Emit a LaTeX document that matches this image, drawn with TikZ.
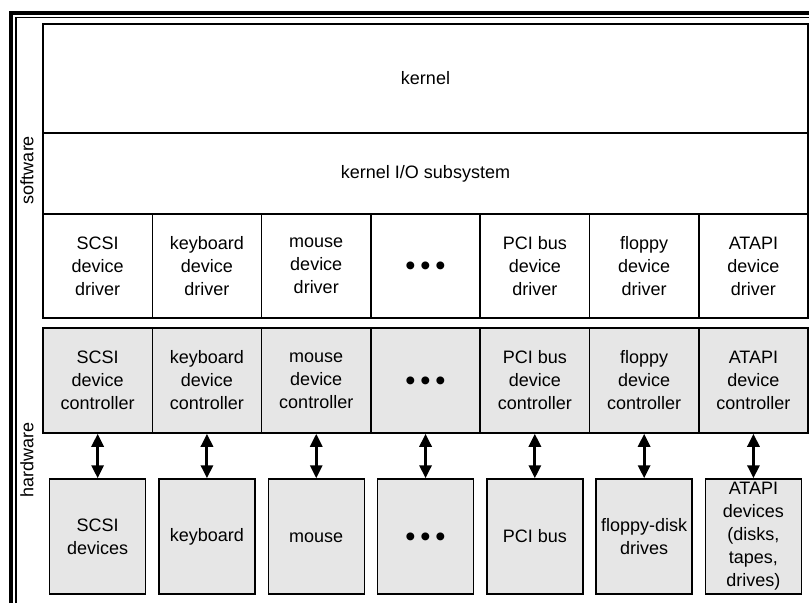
\documentclass[tikz,border=0pt]{standalone}
\usepackage{fontspec}
\setmainfont{Liberation Sans}
\usetikzlibrary{arrows.meta}
\definecolor{hwgray}{HTML}{E6E6E6}

\begin{document}
\begin{tikzpicture}[x=1pt,y=-1pt,
  font=\fontsize{18}{23}\selectfont,
  swcell/.style={draw, line width=1.5pt, inner sep=0pt, align=center, minimum width=109.3pt, minimum height=104pt,
    execute at begin node=\vphantom{S}},
  hwcell/.style={swcell, fill=hwgray, minimum height=105pt},
  devbox/.style={hwcell, minimum width=96pt, minimum height=115pt},
  biarrow/.style={{Triangle[width=12pt,length=13pt]}-{Triangle[width=12pt,length=13pt]}, line width=3pt, black},
  dots/.style={font=\fontsize{29}{29}\selectfont}]
\useasboundingbox (0,0) rectangle (809,603);

% frame
\draw [line width=4.3pt] (11.2,603) -- (11.2,13) -- (809,13);
\draw [line width=1.2pt] (16,603) -- (16,17.2) -- (809,17.2);

\node [rotate=90] (sw) at (27,170) {software};
\node [rotate=90] (hw) at (27,460) {hardware};

% software layers
\node [draw, line width=1.5pt, minimum width=765pt, minimum height=109pt] (kernel) at (425.5,78.5) {kernel};
\node [draw, line width=1.5pt, minimum width=765pt, minimum height=81pt] (kio) at (425.5,173.5) {kernel I/O subsystem};

\node [swcell] (drv-scsi) at (97.65,266) {SCSI\\device\\driver};
\node [swcell] (drv-kbd) at (206.95,266) {keyboard\\device\\driver};
\node [swcell] (drv-mouse) at (316.25,266) {mouse\\device\\driver};
\node [swcell, dots] (drv-dots) at (425.55,266) {•\,•\,•};
\node [swcell] (drv-pci) at (534.85,266) {PCI bus\\device\\driver};
\node [swcell] (drv-floppy) at (644.15,266) {floppy\\device\\driver};
\node [swcell] (drv-atapi) at (753.45,266) {ATAPI\\device\\driver};

% hardware
\node [hwcell] (ctl-scsi) at (97.65,380.5) {SCSI\\device\\controller};
\node [hwcell] (ctl-kbd) at (206.95,380.5) {keyboard\\device\\controller};
\node [hwcell] (ctl-mouse) at (316.25,380.5) {mouse\\device\\controller};
\node [hwcell, dots] (ctl-dots) at (425.55,380.5) {•\,•\,•};
\node [hwcell] (ctl-pci) at (534.85,380.5) {PCI bus\\device\\controller};
\node [hwcell] (ctl-floppy) at (644.15,380.5) {floppy\\device\\controller};
\node [hwcell] (ctl-atapi) at (753.45,380.5) {ATAPI\\device\\controller};

\node [devbox] (dev-scsi) at (97.65,536.5) {SCSI\\devices};
\node [devbox] (dev-kbd) at (206.95,536.5) {keyboard};
\node [devbox] (dev-mouse) at (316.25,536.5) {mouse};
\node [devbox, dots] (dev-dots) at (425.55,536.5) {•\,•\,•};
\node [devbox] (dev-pci) at (534.85,536.5) {PCI bus};
\node [devbox] (dev-floppy) at (644.15,536.5) {floppy-disk\\drives};
\node [devbox] (dev-atapi) at (753.45,536.5) {ATAPI\\devices\\(disks,\\tapes,\\drives)};

\draw [biarrow] (ctl-scsi) -- (dev-scsi);
\draw [biarrow] (ctl-kbd) -- (dev-kbd);
\draw [biarrow] (ctl-mouse) -- (dev-mouse);
\draw [biarrow] (ctl-dots) -- (dev-dots);
\draw [biarrow] (ctl-pci) -- (dev-pci);
\draw [biarrow] (ctl-floppy) -- (dev-floppy);
\draw [biarrow] (ctl-atapi) -- (dev-atapi);

\end{tikzpicture}
\end{document}
